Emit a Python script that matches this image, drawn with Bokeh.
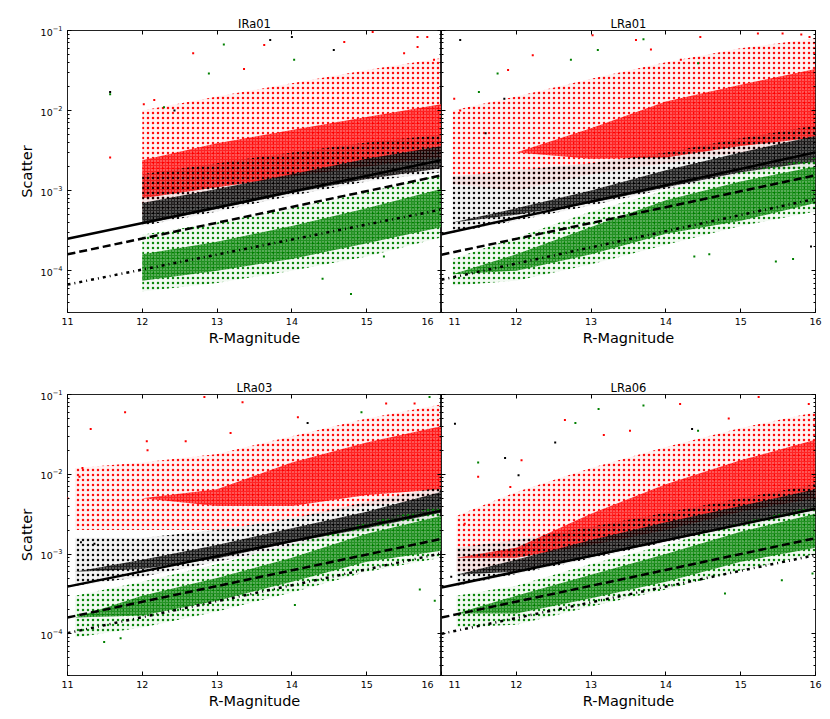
from bokeh.plotting import figure
from bokeh.models import Range1d, LinearAxis, LogAxis, FixedTicker, LogTicker, CustomJSTickFormatter
from bokeh.layouts import column, row
from bokeh.embed import file_html
from bokeh.resources import INLINE

FONT = "DejaVu Sans"
RED, BLACK, GREEN = "#ff0000", "#000000", "#008000"

PANEL_NAMES = ["IRa01", "LRa01", "LRa03", "LRa06"]
X_TICKS = [11, 12, 13, 14, 15, 16]

# ---------------- IRa01 ----------------
ira01_mag = [12.0, 13.0, 14.0, 15.0, 16.0]
ira01_red_halo_lo = [5.0e-4, 7.0e-4, 1.0e-3, 1.4e-3, 1.9e-3]
ira01_red_halo_hi = [1.0e-2, 1.5e-2, 2.2e-2, 3.2e-2, 4.5e-2]
ira01_red_core_lo = [8.0e-4, 1.1e-3, 1.5e-3, 2.0e-3, 2.6e-3]
ira01_red_core_hi = [2.4e-3, 3.9e-3, 5.7e-3, 8.3e-3, 1.2e-2]
ira01_blk_halo_lo = [3.6e-4, 5.5e-4, 8.6e-4, 1.3e-3, 1.7e-3]
ira01_blk_halo_hi = [1.6e-3, 2.2e-3, 3.0e-3, 4.0e-3, 5.0e-3]
ira01_blk_core_lo = [3.8e-4, 5.9e-4, 9.3e-4, 1.4e-3, 1.9e-3]
ira01_blk_core_hi = [7.0e-4, 1.05e-3, 1.6e-3, 2.5e-3, 3.6e-3]
ira01_grn_halo_lo = [5.5e-5, 7.0e-5, 1.0e-4, 1.5e-4, 2.6e-4]
ira01_grn_halo_hi = [2.8e-4, 4.0e-4, 6.0e-4, 9.5e-4, 1.6e-3]
ira01_grn_core_lo = [7.5e-5, 1.0e-4, 1.4e-4, 2.2e-4, 3.5e-4]
ira01_grn_core_hi = [1.6e-4, 2.3e-4, 3.6e-4, 6.0e-4, 1.05e-3]
ira01_solid = [2.5e-4, 2.4e-3]
ira01_dashed = [1.6e-4, 1.55e-3]
ira01_dashdot = [6.7e-5, 5.8e-4]
ira01_out_red_x = [11.57, 12.68, 13.63, 13.36, 14.70, 15.08, 15.68, 15.81, 12.16, 12.02, 15.50, 15.90, 15.68]
ira01_out_red_y = [2.6e-3, 5.2e-2, 6.6e-2, 3.3e-2, 7.2e-2, 9.6e-2, 8.3e-2, 8.3e-2, 1.35e-2, 1.2e-2, 5.2e-2, 4.3e-2, 6.2e-2]
ira01_out_blk_x = [11.57, 13.71, 14.00, 14.56, 12.43]
ira01_out_blk_y = [1.7e-2, 7.6e-2, 8.3e-2, 5.7e-2, 1.0e-2]
ira01_out_grn_x = [11.57, 13.09, 12.89, 14.03, 14.79, 14.41, 12.29, 15.23]
ira01_out_grn_y = [1.6e-2, 6.7e-2, 2.9e-2, 4.3e-2, 5.1e-5, 7.9e-5, 1.1e-2, 1.5e-4]

# ---------------- LRa01 ----------------
lra01_mag = [11.15, 12.0, 13.0, 14.0, 15.0, 16.0]
lra01_red_halo_lo = [1.2e-3, 1.0e-3, 1.6e-3, 2.2e-3, 3.0e-3, 3.8e-3]
lra01_red_halo_hi = [1.0e-2, 1.5e-2, 2.5e-2, 4.0e-2, 6.0e-2, 8.0e-2]
lra01_red_core_lo = [3.0e-3, 3.0e-3, 2.5e-3, 2.6e-3, 3.6e-3, 4.6e-3]
lra01_red_core_hi = [3.0e-3, 3.0e-3, 6.0e-3, 1.3e-2, 2.1e-2, 3.3e-2]
lra01_blk_halo_lo = [3.0e-4, 4.2e-4, 6.5e-4, 1.05e-3, 1.6e-3, 2.0e-3]
lra01_blk_halo_hi = [1.5e-3, 1.8e-3, 2.2e-3, 3.0e-3, 4.5e-3, 6.5e-3]
lra01_blk_core_lo = [4.0e-4, 5.0e-4, 7.0e-4, 1.1e-3, 1.7e-3, 2.3e-3]
lra01_blk_core_hi = [4.0e-4, 6.0e-4, 1.0e-3, 1.8e-3, 3.0e-3, 4.8e-3]
lra01_grn_halo_lo = [6.5e-5, 7.5e-5, 1.2e-4, 2.1e-4, 3.6e-4, 5.5e-4]
lra01_grn_halo_hi = [1.4e-4, 2.6e-4, 5.5e-4, 1.0e-3, 1.7e-3, 2.6e-3]
lra01_grn_core_lo = [9.0e-5, 1.0e-4, 1.6e-4, 2.9e-4, 4.2e-4, 7.0e-4]
lra01_grn_core_hi = [9.0e-5, 1.6e-4, 3.5e-4, 7.6e-4, 1.3e-3, 2.0e-3]
lra01_solid = [2.85e-4, 3.0e-3]
lra01_dashed = [1.58e-4, 1.55e-3]
lra01_dashdot = [7.7e-5, 7.9e-4]
lra01_out_red_x = [13.60, 13.80, 14.46, 15.23, 15.56, 15.81, 15.92, 13.02, 14.20, 11.89, 12.22, 11.25, 11.17]
lra01_out_red_y = [7.6e-2, 5.8e-2, 8.3e-2, 9.2e-2, 9.2e-2, 8.9e-2, 8.3e-2, 8.7e-2, 4.3e-2, 3.2e-2, 4.9e-2, 1.0e-2, 1.4e-2]
lra01_out_blk_x = [11.25, 11.84, 11.59, 15.94]
lra01_out_blk_y = [7.6e-2, 1.4e-2, 5.2e-3, 2.0e-4]
lra01_out_grn_x = [13.70, 14.43, 11.75, 11.50, 15.47, 15.70, 14.38, 14.58, 13.09, 12.73]
lra01_out_grn_y = [7.8e-2, 3.9e-2, 2.9e-2, 1.7e-2, 1.3e-4, 1.4e-4, 1.5e-4, 1.6e-4, 5.7e-2, 4.3e-2]

# ---------------- LRa03 ----------------
lra03_mag = [11.1, 12.0, 13.0, 14.0, 15.0, 16.0]
lra03_red_halo_lo = [2.0e-3, 2.0e-3, 2.0e-3, 2.8e-3, 4.0e-3, 5.0e-3]
lra03_red_halo_hi = [1.2e-2, 1.4e-2, 1.8e-2, 3.0e-2, 5.0e-2, 7.5e-2]
lra03_red_core_lo = [5.0e-3, 5.0e-3, 4.0e-3, 4.0e-3, 5.5e-3, 6.5e-3]
lra03_red_core_hi = [5.0e-3, 5.0e-3, 6.5e-3, 1.4e-2, 2.5e-2, 4.0e-2]
lra03_blk_halo_lo = [4.0e-4, 5.2e-4, 8.0e-4, 1.25e-3, 1.9e-3, 3.0e-3]
lra03_blk_halo_hi = [1.6e-3, 1.6e-3, 2.0e-3, 2.8e-3, 4.5e-3, 7.0e-3]
lra03_blk_core_lo = [6.0e-4, 6.5e-4, 8.8e-4, 1.4e-3, 2.1e-3, 3.3e-3]
lra03_blk_core_hi = [6.0e-4, 8.5e-4, 1.3e-3, 2.1e-3, 3.4e-3, 6.0e-3]
lra03_grn_halo_lo = [9.0e-5, 1.2e-4, 1.9e-4, 3.3e-4, 6.0e-4, 9.0e-4]
lra03_grn_halo_hi = [3.0e-4, 4.5e-4, 7.5e-4, 1.3e-3, 2.5e-3, 4.0e-3]
lra03_grn_core_lo = [1.6e-4, 1.7e-4, 2.6e-4, 4.5e-4, 8.0e-4, 1.1e-3]
lra03_grn_core_hi = [1.6e-4, 3.0e-4, 5.0e-4, 9.0e-4, 1.8e-3, 3.0e-3]
lra03_solid = [3.9e-4, 3.5e-3]
lra03_dashed = [1.6e-4, 1.55e-3]
lra03_dashdot = [1.02e-4, 1.02e-3]
lra03_out_red_x = [11.31, 11.77, 12.06, 12.58, 13.34, 12.83, 13.18, 14.08, 15.26, 15.64, 11.16, 11.20, 11.00, 12.07, 12.21]
lra03_out_red_y = [3.7e-2, 6.0e-2, 2.6e-2, 2.6e-2, 8.0e-2, 9.3e-2, 3.3e-2, 5.2e-2, 7.7e-2, 7.7e-2, 9.3e-3, 1.2e-2, 5.0e-3, 2.0e-2, 1.3e-2]
lra03_out_blk_x = [14.21, 11.18, 11.36]
lra03_out_blk_y = [4.4e-2, 1.4e-3, 1.35e-3]
lra03_out_grn_x = [14.93, 15.84, 11.49, 11.71, 15.71, 14.04, 15.91]
lra03_out_grn_y = [6.0e-2, 9.3e-2, 7.9e-5, 8.8e-5, 3.6e-4, 2.3e-4, 2.6e-4]

# ---------------- LRa06 ----------------
lra06_mag = [11.2, 12.0, 13.0, 14.0, 15.0, 16.0]
lra06_red_halo_lo = [6.0e-4, 6.0e-4, 1.0e-3, 1.7e-3, 3.0e-3, 4.4e-3]
lra06_red_halo_hi = [3.0e-3, 6.0e-3, 1.2e-2, 2.2e-2, 3.8e-2, 6.0e-2]
lra06_red_core_lo = [9.0e-4, 9.0e-4, 1.3e-3, 2.0e-3, 3.4e-3, 5.0e-3]
lra06_red_core_hi = [9.0e-4, 1.2e-3, 3.2e-3, 7.5e-3, 1.5e-2, 2.7e-2]
lra06_blk_halo_lo = [4.0e-4, 5.6e-4, 8.8e-4, 1.4e-3, 2.2e-3, 3.4e-3]
lra06_blk_halo_hi = [1.2e-3, 1.5e-3, 2.2e-3, 3.3e-3, 5.0e-3, 7.5e-3]
lra06_blk_core_lo = [5.5e-4, 6.0e-4, 9.2e-4, 1.45e-3, 2.3e-3, 3.6e-3]
lra06_blk_core_hi = [5.5e-4, 8.5e-4, 1.5e-3, 2.5e-3, 4.0e-3, 6.5e-3]
lra06_grn_halo_lo = [1.2e-4, 1.3e-4, 2.2e-4, 3.6e-4, 6.2e-4, 1.0e-3]
lra06_grn_halo_hi = [3.0e-4, 4.0e-4, 7.5e-4, 1.3e-3, 2.5e-3, 4.0e-3]
lra06_grn_core_lo = [1.8e-4, 1.8e-4, 2.8e-4, 4.5e-4, 8.0e-4, 1.2e-3]
lra06_grn_core_hi = [1.8e-4, 3.0e-4, 5.5e-4, 1.0e-3, 1.9e-3, 3.2e-3]
lra06_solid = [3.8e-4, 3.7e-3]
lra06_dashed = [1.6e-4, 1.58e-3]
lra06_dashdot = [1.0e-4, 9.7e-4]
lra06_out_red_x = [14.19, 15.24, 15.91, 12.65, 13.52, 12.07, 11.92, 11.49, 11.31, 13.17, 14.84]
lra06_out_red_y = [7.6e-2, 9.3e-2, 7.6e-2, 4.8e-2, 3.5e-2, 1.5e-2, 6.9e-3, 9.3e-3, 2.4e-3, 3.1e-2, 5.0e-2]
lra06_out_blk_x = [11.18, 14.35, 12.52, 11.85, 12.03, 11.13]
lra06_out_blk_y = [4.3e-2, 3.7e-2, 2.5e-2, 1.6e-2, 9.7e-3, 5.2e-4]
lra06_out_grn_x = [13.10, 13.70, 12.79, 14.43, 11.49, 14.79, 15.55, 15.96]
lra06_out_grn_y = [6.6e-2, 7.3e-2, 4.4e-2, 3.5e-2, 1.4e-2, 3.2e-4, 4.7e-4, 5.7e-4]

LINE_X = [11, 16]

PANELS = {
    "IRa01": dict(mag=ira01_mag,
                  red=(ira01_red_halo_lo, ira01_red_halo_hi, ira01_red_core_lo, ira01_red_core_hi),
                  blk=(ira01_blk_halo_lo, ira01_blk_halo_hi, ira01_blk_core_lo, ira01_blk_core_hi),
                  grn=(ira01_grn_halo_lo, ira01_grn_halo_hi, ira01_grn_core_lo, ira01_grn_core_hi),
                  lines=(ira01_solid, ira01_dashed, ira01_dashdot),
                  out=((ira01_out_red_x, ira01_out_red_y), (ira01_out_blk_x, ira01_out_blk_y), (ira01_out_grn_x, ira01_out_grn_y))),
    "LRa01": dict(mag=lra01_mag,
                  red=(lra01_red_halo_lo, lra01_red_halo_hi, lra01_red_core_lo, lra01_red_core_hi),
                  blk=(lra01_blk_halo_lo, lra01_blk_halo_hi, lra01_blk_core_lo, lra01_blk_core_hi),
                  grn=(lra01_grn_halo_lo, lra01_grn_halo_hi, lra01_grn_core_lo, lra01_grn_core_hi),
                  lines=(lra01_solid, lra01_dashed, lra01_dashdot),
                  out=((lra01_out_red_x, lra01_out_red_y), (lra01_out_blk_x, lra01_out_blk_y), (lra01_out_grn_x, lra01_out_grn_y))),
    "LRa03": dict(mag=lra03_mag,
                  red=(lra03_red_halo_lo, lra03_red_halo_hi, lra03_red_core_lo, lra03_red_core_hi),
                  blk=(lra03_blk_halo_lo, lra03_blk_halo_hi, lra03_blk_core_lo, lra03_blk_core_hi),
                  grn=(lra03_grn_halo_lo, lra03_grn_halo_hi, lra03_grn_core_lo, lra03_grn_core_hi),
                  lines=(lra03_solid, lra03_dashed, lra03_dashdot),
                  out=((lra03_out_red_x, lra03_out_red_y), (lra03_out_blk_x, lra03_out_blk_y), (lra03_out_grn_x, lra03_out_grn_y))),
    "LRa06": dict(mag=lra06_mag,
                  red=(lra06_red_halo_lo, lra06_red_halo_hi, lra06_red_core_lo, lra06_red_core_hi),
                  blk=(lra06_blk_halo_lo, lra06_blk_halo_hi, lra06_blk_core_lo, lra06_blk_core_hi),
                  grn=(lra06_grn_halo_lo, lra06_grn_halo_hi, lra06_grn_core_lo, lra06_grn_core_hi),
                  lines=(lra06_solid, lra06_dashed, lra06_dashdot),
                  out=((lra06_out_red_x, lra06_out_red_y), (lra06_out_blk_x, lra06_out_blk_y), (lra06_out_grn_x, lra06_out_grn_y))),
}

FSP = "\u2007"  # figure space, keeps the shared-edge labels apart


def style_axis(ax, labels, is_x):
    ax.axis_line_color = None
    ax.major_tick_in = 4
    ax.major_tick_out = 0
    ax.major_tick_line_color = "black"
    if is_x:
        ax.minor_tick_line_color = None
    else:
        ax.minor_tick_in = 2
        ax.minor_tick_out = 0
        ax.minor_tick_line_color = "black"
    ax.major_label_text_font = FONT
    ax.major_label_text_color = "black"
    if labels:
        ax.major_label_text_font_size = "9.5px"
        ax.major_label_standoff = 3 if is_x else 5
    else:
        ax.formatter = CustomJSTickFormatter(code="return ''")
        ax.major_label_text_font_size = "1px"
        ax.major_label_standoff = 0


def make_panel(name, left, top):
    d = PANELS[name]
    bl = 67 if left else 0
    br = 0 if left else 7
    bt = 30 if top else 32
    bb = 50 if top else 35
    p = figure(width=bl + 374 + br, height=bt + 282 + bb,
               x_range=Range1d(11, 16), y_range=Range1d(3e-5, 1e-1),
               y_axis_type="log", output_backend="svg", toolbar_location=None,
               min_border_left=bl, min_border_right=br, min_border_top=bt, min_border_bottom=bb)
    p.grid.visible = False
    p.background_fill_color = "white"
    p.border_fill_color = "white"
    p.outline_line_color = "#222222"
    p.outline_line_width = 1

    p.title.text = name
    p.title.align = "center"
    p.title.text_font = FONT
    p.title.text_font_size = "11.5px"
    p.title.text_font_style = "normal"
    p.title.text_color = "black"
    p.title.standoff = 0

    p.xaxis.ticker = FixedTicker(ticks=X_TICKS)
    p.yaxis.ticker = LogTicker(num_minor_ticks=10)
    style_axis(p.xaxis[0], True, True)
    style_axis(p.yaxis[0], left, False)
    p.xaxis.axis_label = "R-Magnitude"
    p.xaxis.axis_label_text_font = FONT
    p.xaxis.axis_label_text_font_size = "14.5px"
    p.xaxis.axis_label_text_font_style = "normal"
    p.xaxis.axis_label_text_color = "black"
    p.xaxis.axis_label_standoff = 0
    if left:
        p.yaxis.axis_label = "Scatter"
        p.yaxis.axis_label_text_font = FONT
        p.yaxis.axis_label_text_font_size = "14.5px"
        p.yaxis.axis_label_text_font_style = "normal"
        p.yaxis.axis_label_text_color = "black"
        p.yaxis.axis_label_standoff = 3
        p.xaxis.major_label_overrides = {16: "16" + FSP + "\u2009"}
    else:
        p.xaxis.major_label_overrides = {11: FSP + "\u200a" + "11"}

    top_ax = LinearAxis(ticker=FixedTicker(ticks=X_TICKS))
    style_axis(top_ax, False, True)
    p.add_layout(top_ax, "above")
    right_ax = LogAxis(ticker=LogTicker(num_minor_ticks=10))
    style_axis(right_ax, False, False)
    p.add_layout(right_ax, "right")

    mag = d["mag"]
    for key, col in (("red", RED), ("blk", BLACK), ("grn", GREEN)):
        hlo, hhi, clo, chi = d[key]
        p.varea(x=mag, y1=hlo, y2=hhi, fill_color=col, fill_alpha=0.05, hatch_pattern="dot",
                hatch_color=col, hatch_scale=5, hatch_weight=1.0, hatch_alpha=0.95)
        p.varea(x=mag, y1=clo, y2=chi, fill_color=col, fill_alpha=0.85, hatch_pattern="dot",
                hatch_color="white", hatch_scale=3, hatch_weight=1, hatch_alpha=0.6)
    for (ox, oy), col in zip(d["out"], (RED, BLACK, GREEN)):
        p.scatter(ox, oy, marker="square", size=2, fill_color=col, line_color=None)

    solid, dashed, dashdot = d["lines"]
    p.line(LINE_X, solid, line_color="black", line_width=2.5)
    p.line(LINE_X, dashed, line_color="black", line_width=2.5, line_dash="8 4")
    p.line(LINE_X, dashdot, line_color="black", line_width=2.5, line_dash="3 4 1 4")
    return p


p1 = make_panel("IRa01", True, True)
p2 = make_panel("LRa01", False, True)
p3 = make_panel("LRa03", True, False)
p4 = make_panel("LRa06", False, False)

layout = column(row(p1, p2), row(p3, p4))
open("out.html", "w").write(file_html(layout, INLINE))
